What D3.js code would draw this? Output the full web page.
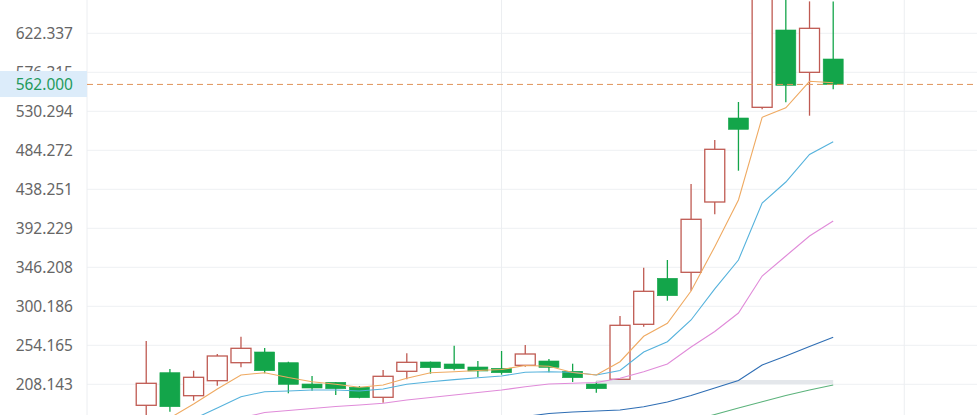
<!DOCTYPE html>
<html><head><meta charset="utf-8">
<script src="https://cdn.jsdelivr.net/npm/d3@7"></script>
<style>html,body{margin:0;padding:0;background:#fff;overflow:hidden}</style>
</head><body>
<svg id="chart" width="977" height="415"></svg>
<script>
// ---- data ----
const openVals  = [183.36,221.83,194.69,212.39,233.63,246.26,233.63,208.50,210.50,204.60,192.80,223.48,234.46,232.10,228.56,227.02,230.56,235.64,223.48,208.50,214.04,278.94,333.22,340.30,423.26,522.38,535.00,626.23,576.30,592.00];
const highVals  = [259.24,226.20,224.19,243.90,264.31,250.98,234.81,217.94,211.00,206.14,225.02,244.72,235.00,253.69,235.64,247.44,254.52,238.00,232.45,211.21,288.74,345.73,354.82,444.50,496.43,541.26,700.00,668.00,660.00,660.00];
const lowVals   = [170.00,175.80,188.79,206.49,228.20,221.12,197.52,200.59,195.52,191.62,186.43,214.04,220.65,224.66,216.76,219.47,228.91,222.30,210.86,198.23,214.04,276.11,306.79,318.59,408.75,460.19,532.66,540.90,525.10,556.25];
const closeVals = [209.32,181.71,216.40,241.54,250.62,224.19,208.14,203.78,202.95,192.33,217.58,234.10,227.73,226.55,223.84,221.83,243.90,228.20,215.93,202.95,277.76,317.88,312.69,402.85,485.45,509.05,679.30,560.97,628.22,562.00];

const ma5  = [160.12,168.38,184.90,202.60,219.12,221.83,216.17,211.21,208.14,204.60,207.32,215.22,221.83,223.01,224.43,225.61,230.33,229.38,222.07,219.12,234.81,264.78,280.12,318.24,370.51,425.62,523.20,534.42,565.69,564.04];
const ma10 = [142.41,154.22,167.20,180.18,193.51,199.41,200.24,201.42,201.42,200.24,202.60,208.26,211.21,213.69,215.93,217.94,222.30,223.01,222.30,219.12,224.43,246.26,258.41,284.02,320.83,354.82,422.08,446.86,479.31,494.41];
const ma20 = [154.22,157.76,161.30,164.84,168.38,174.87,177.23,179.59,181.95,183.72,185.72,189.62,192.57,195.52,198.47,201.42,205.31,208.50,209.32,210.27,215.22,223.01,232.10,252.16,270.45,292.28,335.94,359.54,383.14,400.84];
const ma60 = [null,null,null,null,null,null,null,null,null,null,null,null,163.07,164.84,166.60,168.38,170.14,173.69,175.46,176.64,177.82,181.71,187.26,194.93,203.78,212.63,230.92,241.54,252.75,263.60];
const ma120= [null,null,null,null,null,null,null,null,null,null,null,null,null,null,null,null,null,null,null,null,null,null,156.58,164.84,172.51,180.18,187.61,194.93,201.42,207.32];
const bandLine = [null,null,null,null,null,null,null,null,null,null,null,null,null,null,null,null,null,null,null,210.86,210.86,210.86,210.86,210.86,210.86,210.86,210.86,210.86,210.86,210.86];

const tickVals   = [208.143,254.165,300.186,346.208,392.229,438.251,484.272,530.294,576.315,622.337];
const tickLabels = ["208.143","254.165","300.186","346.208","392.229","438.251","484.272","530.294","576.315","622.337"];
const lastPrice = 562.000;
const lastLabel = "562.000";
const vGridIdx = [15, 32];

// ---- layout ----
const W = 977, H = 415, axisW = 87;
const svg = d3.select("#chart");
const x = d3.scaleLinear().domain([-2.5, 35.07]).range([axisW, W]);
const y = d3.scaleLinear().domain([208.143, 622.337]).range([384.3, 33.3]);
const bodyW = 20;

svg.append("defs").append("clipPath").attr("id","clip")
  .append("rect").attr("x",axisW).attr("y",0).attr("width",W-axisW).attr("height",H);

// grid
const grid = svg.append("g");
grid.selectAll("line.h").data(tickVals).join("line")
  .attr("x1",axisW).attr("x2",W).attr("y1",d=>y(d)).attr("y2",d=>y(d))
  .attr("stroke","#eef0f3").attr("stroke-width",1);
grid.selectAll("line.v").data(vGridIdx).join("line")
  .attr("x1",d=>x(d)).attr("x2",d=>x(d)).attr("y1",0).attr("y2",H)
  .attr("stroke","#eceef1").attr("stroke-width",1);
svg.append("line").attr("x1",axisW).attr("x2",axisW).attr("y1",0).attr("y2",H)
  .attr("stroke","#eceef1").attr("stroke-width",1);

const plot = svg.append("g").attr("clip-path","url(#clip)");
const idx = d3.range(closeVals.length);

// band line
const lineGen = arr => d3.line().defined(i=>arr[i]!=null).x(i=>x(i)).y(i=>y(arr[i]))(idx);
plot.append("path").attr("d",lineGen(bandLine)).attr("fill","none")
  .attr("stroke","#e4e7eb").attr("stroke-width",4);

// candles
const up = i => closeVals[i] >= openVals[i];
const red = "#bf5a52", green = "#13a54a";
const cg = plot.append("g");
cg.selectAll("line.wick").data(idx).join("line")
  .attr("x1",i=>x(i)).attr("x2",i=>x(i))
  .attr("y1",i=>y(highVals[i])).attr("y2",i=>y(lowVals[i]))
  .attr("stroke",i=>up(i)?red:green).attr("stroke-width",1.3);
cg.selectAll("rect.body").data(idx).join("rect")
  .attr("x",i=>x(i)-bodyW/2)
  .attr("y",i=>y(Math.max(openVals[i],closeVals[i])))
  .attr("width",bodyW)
  .attr("height",i=>Math.max(1,Math.abs(y(openVals[i])-y(closeVals[i]))))
  .attr("fill",i=>up(i)?"#fff":green)
  .attr("stroke",i=>up(i)?red:green).attr("stroke-width",i=>up(i)?1.3:0.6);

// moving average lines
const series = [[ma120,"#5cb37c"],[ma60,"#2f6eb4"],[ma20,"#e08bd9"],[ma10,"#55b2dc"],[ma5,"#efaa62"]];
series.forEach(([arr,col])=>{
  plot.append("path").attr("d",lineGen(arr)).attr("fill","none")
    .attr("stroke",col).attr("stroke-width",1.1);
});

// last price dashed line
plot.append("line").attr("x1",axisW).attr("x2",W)
  .attr("y1",y(lastPrice)).attr("y2",y(lastPrice))
  .attr("stroke","#e0955a").attr("stroke-width",1).attr("stroke-dasharray","6,4");

// y axis labels
const axis = d3.axisLeft(y).tickValues(tickVals).tickFormat((d,i)=>tickLabels[i]).tickSize(0).tickPadding(0);
const ag = svg.append("g").attr("transform","translate(73,0)").call(axis);
ag.select(".domain").remove();
ag.selectAll("text").attr("fill","#666").attr("font-family","'Noto Sans', sans-serif")
  .attr("font-size","15.5px").attr("dy","0.35em");

// last price label
svg.append("rect").attr("x",0).attr("y",y(lastPrice)-13.4).attr("width",axisW).attr("height",26)
  .attr("fill","#dcecfa");
svg.append("text").attr("x",73).attr("y",y(lastPrice)).attr("dy","0.35em")
  .attr("text-anchor","end").attr("fill","#1f9a5c")
  .attr("font-family","'Noto Sans', sans-serif").attr("font-size","15.5px").text(lastLabel);
</script>
</body></html>
